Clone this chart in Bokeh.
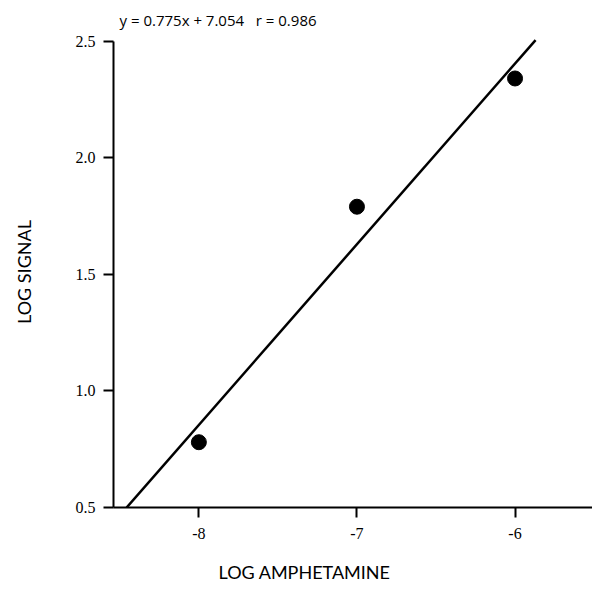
from bokeh.plotting import figure
from bokeh.models import Range1d, FixedTicker, Title
from bokeh.embed import file_html
from bokeh.resources import INLINE

# Data
log_amphetamine = [-8.0, -7.0, -6.0]
log_signal = [0.78, 1.79, 2.34]

# Fit reported on the chart
slope = 0.775
intercept = 7.054
fit_x_ends = [-8.457, -5.87]
fit_y_ends = [slope * x + intercept for x in fit_x_ends]

x_ticks = [-8, -7, -6]
x_tick_labels = {-8: "-8", -7: "-7", -6: "-6"}
y_ticks = [0.5, 1.0, 1.5, 2.0, 2.5]
y_tick_labels = {0.5: "0.5", 1.0: "1.0", 1.5: "1.5", 2.0: "2.0", 2.5: "2.5"}

equation_text = "y = 0.775x + 7.054\u00a0\u00a0\u00a0r = 0.986"

p = figure(width=592, height=599, output_backend="svg", toolbar_location=None,
           x_range=Range1d(-8.54, -5.51), y_range=Range1d(0.5, 2.52),
           min_border_left=113, min_border_right=0, min_border_top=36,
           min_border_bottom=91)
p.outline_line_color = None
p.grid.grid_line_color = None
p.background_fill_color = "white"
p.border_fill_color = "white"

p.title = Title(text=equation_text, text_font="Open Sans", text_font_size="15px",
                text_font_style="normal", text_color="black", align="left",
                offset=6, standoff=14)

p.line(fit_x_ends, fit_y_ends, line_color="black", line_width=2.5)
p.scatter(log_amphetamine, log_signal, size=15, color="black")

for ax in (p.xaxis[0], p.yaxis[0]):
    ax.axis_line_color = "black"
    ax.axis_line_width = 2
    ax.major_tick_line_color = "black"
    ax.major_tick_line_width = 2
    ax.major_tick_out = 10
    ax.major_tick_in = 0
    ax.minor_tick_line_color = None
    ax.major_label_text_font = "Liberation Serif"
    ax.major_label_text_font_size = "16px"
    ax.major_label_text_color = "black"
    ax.axis_label_text_font = "Lato"
    ax.axis_label_text_font_size = "18px"
    ax.axis_label_text_font_style = "normal"
    ax.axis_label_text_color = "black"

p.xaxis[0].ticker = FixedTicker(ticks=x_ticks)
p.xaxis[0].major_label_overrides = x_tick_labels
p.xaxis[0].major_label_standoff = 10
p.yaxis[0].ticker = FixedTicker(ticks=y_ticks)
p.yaxis[0].major_label_overrides = y_tick_labels
p.yaxis[0].major_label_standoff = 8
p.yaxis[0].bounds = (0.5, 2.5)
p.yaxis[0].axis_label = "LOG SIGNAL"
p.yaxis[0].axis_label_standoff = 38

x_title = Title(text="LOG AMPHETAMINE", text_font="Lato", text_font_size="18px",
                text_font_style="normal", text_color="black", align="left",
                offset=105, standoff=34)
p.add_layout(x_title, "below")

open("out.html", "w").write(file_html(p, INLINE))
